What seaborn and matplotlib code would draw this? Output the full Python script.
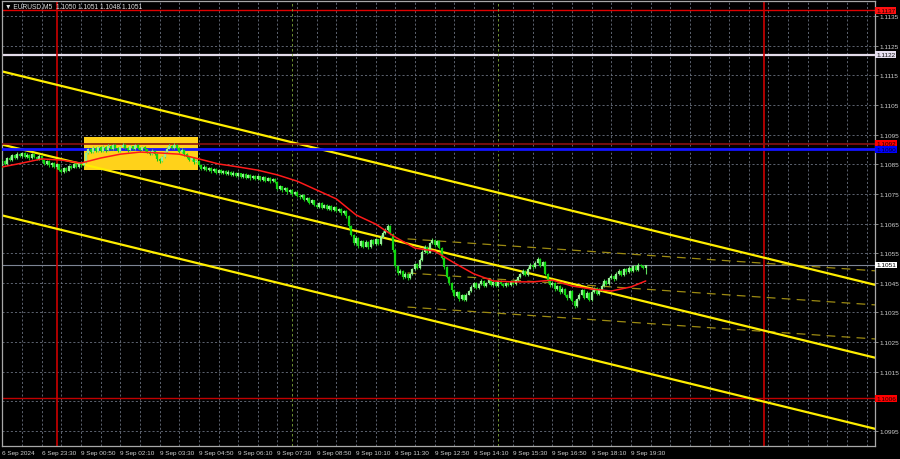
import numpy as np
import pandas as pd
import matplotlib
matplotlib.use("Agg")
import matplotlib.pyplot as plt
import seaborn as sns

# ---------------- data (prices in pips above 1.1000) ----------------
BASE = 1.1000
PIP = 0.0001

first_open_pips = 84.5
close_pips = [
    86.0, 85.2, 87.0, 86.5, 88.0, 87.2, 88.6, 87.8, 88.9, 87.5,
    88.2, 87.0, 88.5, 87.6, 86.8, 87.9, 86.5, 85.2, 86.0, 84.6,
    85.5, 84.0, 85.0, 83.2, 82.5, 83.8, 82.8, 84.5, 83.9, 85.0,
    84.2, 85.3, 84.6, 85.6, 88.8, 90.0, 89.2, 90.6, 89.5, 90.8,
    89.6, 90.9, 89.8, 91.2, 90.2, 91.5, 90.4, 89.5, 90.7, 91.6,
    90.5, 89.8, 91.0, 90.1, 91.4, 90.6, 89.7, 90.9, 90.0, 89.2,
    88.5, 89.6, 88.4, 86.8, 86.0, 87.5, 89.0, 90.3, 91.2, 90.5,
    91.6, 90.4, 89.2, 89.9, 88.3, 87.6, 86.5, 87.0, 85.6, 86.2,
    84.9, 83.5, 84.2, 83.0, 83.8, 82.6, 83.4, 82.2, 83.1, 82.0,
    82.8, 81.8, 82.5, 81.4, 82.2, 81.0, 81.9, 80.8, 81.6, 80.5,
    81.3, 80.2, 81.0, 80.0, 80.9, 79.8, 80.6, 79.5, 80.3, 79.2,
    79.9, 79.0, 76.8, 77.5, 76.2, 76.9, 75.5, 76.3, 74.8, 75.6,
    74.4, 73.8, 74.5, 72.9, 73.6, 72.0, 72.8, 71.2, 70.6, 71.8,
    70.4, 71.2, 69.8, 70.9, 69.5, 70.6, 69.2, 70.0, 68.4, 69.3,
    67.5, 64.0, 61.2, 58.5, 60.2, 57.4, 59.0, 57.2, 58.8, 57.0,
    59.4, 58.0, 59.6, 58.2, 60.5, 61.8, 62.8, 64.2, 61.5, 56.0,
    50.5, 48.2, 49.0, 46.8, 48.0, 46.5, 47.8, 49.5, 51.2, 50.0,
    52.8, 55.5, 57.0, 55.2, 58.4, 59.5, 57.6, 59.0, 56.8, 53.5,
    50.2, 47.0, 44.8, 42.5, 40.6, 41.8, 39.5, 40.8, 39.2, 41.0,
    42.2, 43.6, 44.8, 43.2, 44.5, 45.6, 43.8, 44.9, 46.0, 44.2,
    45.3, 44.0, 45.5, 44.6, 43.8, 45.0, 44.2, 45.6, 44.5, 46.0,
    46.8, 47.9, 49.0, 47.6, 49.8, 50.9, 50.2, 51.8, 52.9, 50.8,
    52.0, 48.0, 45.8, 44.2, 45.0, 42.8, 43.9, 41.8, 43.0, 40.9,
    39.8, 42.2, 39.0, 37.2, 39.5, 41.0, 42.5, 40.0, 41.6, 39.2,
    42.0, 43.1, 41.2, 42.6, 44.0, 45.6, 44.6, 46.6, 47.2, 46.1,
    48.0, 49.1, 47.6, 49.6, 48.5, 50.0, 49.0, 50.6, 49.4, 51.0,
    50.6, 50.0, 51.0,
]
high_pips = [
    86.8, 86.6, 87.5, 87.9, 88.5, 88.4, 89.0, 88.9, 89.3, 89.1,
    88.7, 88.5, 88.9, 88.8, 87.9, 88.3, 88.1, 86.8, 86.4, 86.3,
    85.9, 85.8, 85.4, 85.2, 83.6, 84.2, 84.1, 84.9, 84.8, 85.3,
    85.3, 85.6, 85.6, 86.0, 89.2, 90.5, 90.4, 91.0, 90.9, 91.3,
    91.1, 91.4, 91.2, 91.7, 91.5, 92.0, 91.8, 90.7, 91.1, 92.1,
    91.9, 90.8, 91.4, 91.3, 91.9, 91.7, 90.9, 91.3, 91.2, 90.3,
    89.5, 90.0, 89.9, 88.7, 87.2, 87.9, 89.4, 90.8, 91.7, 91.6,
    92.2, 91.9, 90.7, 90.4, 90.1, 88.7, 87.9, 87.5, 87.3, 86.7,
    86.5, 85.2, 84.6, 84.5, 84.2, 84.1, 83.8, 83.7, 83.5, 83.4,
    83.2, 83.1, 82.9, 82.8, 82.6, 82.5, 82.3, 82.2, 82.0, 81.9,
    81.7, 81.6, 81.4, 81.3, 81.3, 81.2, 81.0, 80.9, 80.7, 80.6,
    80.3, 80.2, 79.3, 77.9, 77.8, 77.3, 77.2, 76.7, 76.6, 76.0,
    75.9, 74.8, 74.9, 74.8, 74.0, 73.9, 73.2, 73.1, 71.6, 72.3,
    72.1, 71.6, 71.5, 71.3, 71.2, 71.0, 70.9, 70.4, 70.3, 69.7,
    69.6, 67.8, 64.4, 61.6, 60.7, 60.5, 59.5, 59.3, 59.3, 59.1,
    59.9, 59.7, 60.1, 59.9, 61.0, 62.4, 63.5, 64.9, 64.5, 61.8,
    56.3, 50.9, 49.5, 49.3, 48.5, 48.3, 48.2, 50.0, 51.7, 51.5,
    53.3, 56.0, 57.6, 57.3, 58.9, 60.2, 59.8, 59.5, 59.3, 57.1,
    53.8, 50.5, 47.3, 45.1, 42.8, 42.3, 42.1, 41.3, 41.1, 41.5,
    42.7, 44.1, 45.3, 45.1, 44.9, 46.1, 45.9, 45.3, 46.5, 46.3,
    45.7, 45.6, 45.9, 45.8, 44.9, 45.4, 45.3, 46.0, 45.9, 46.4,
    47.3, 48.4, 49.5, 49.3, 50.3, 51.5, 51.3, 52.3, 53.6, 53.2,
    52.5, 52.3, 48.3, 46.1, 45.5, 45.3, 44.4, 44.2, 43.5, 43.3,
    41.2, 42.7, 42.5, 39.3, 40.0, 41.5, 43.0, 42.8, 42.1, 41.9,
    42.5, 43.6, 43.4, 43.1, 44.5, 46.1, 45.9, 47.1, 47.8, 47.5,
    48.5, 49.6, 49.4, 50.1, 49.9, 50.5, 50.3, 51.1, 50.9, 51.5,
    51.3, 50.9, 51.0,
]
low_pips = [
    83.6, 84.7, 84.9, 86.0, 86.1, 86.8, 86.9, 87.3, 87.5, 87.0,
    87.1, 86.6, 86.7, 87.2, 86.3, 86.5, 86.0, 84.8, 84.9, 84.2,
    84.2, 83.6, 83.5, 82.6, 82.0, 82.2, 82.3, 82.6, 83.5, 83.6,
    83.8, 83.9, 84.2, 84.3, 85.4, 88.5, 88.7, 88.9, 89.1, 89.2,
    89.2, 89.3, 89.3, 89.5, 89.8, 89.9, 90.0, 89.0, 89.2, 90.4,
    90.1, 89.3, 89.5, 89.7, 89.8, 90.2, 89.2, 89.4, 89.6, 88.7,
    88.0, 88.2, 88.0, 86.2, 85.5, 85.7, 87.2, 88.7, 90.0, 90.1,
    90.2, 90.0, 88.8, 88.9, 87.9, 87.1, 86.0, 86.1, 85.1, 85.3,
    84.4, 83.0, 83.2, 82.6, 82.7, 82.2, 82.3, 81.8, 81.9, 81.6,
    81.7, 81.4, 81.5, 81.0, 81.1, 80.6, 80.7, 80.4, 80.5, 80.1,
    80.2, 79.8, 79.9, 79.6, 79.7, 79.4, 79.5, 79.1, 79.2, 78.8,
    78.9, 78.6, 76.3, 76.4, 75.8, 75.9, 75.1, 75.2, 74.4, 74.5,
    74.0, 73.3, 73.5, 72.5, 72.6, 71.6, 71.7, 70.8, 70.1, 70.3,
    70.0, 70.1, 69.4, 69.5, 69.1, 69.2, 68.8, 68.9, 68.0, 68.1,
    67.0, 63.5, 60.7, 57.9, 58.1, 56.8, 57.0, 56.7, 56.9, 56.5,
    56.7, 57.6, 57.7, 57.8, 57.9, 60.2, 61.4, 62.5, 61.0, 55.4,
    49.9, 47.7, 47.8, 46.3, 46.5, 46.0, 46.2, 47.5, 49.2, 49.6,
    49.7, 52.5, 55.2, 54.8, 54.9, 58.1, 57.2, 57.3, 56.4, 53.0,
    49.7, 46.5, 44.3, 42.0, 40.1, 40.3, 39.0, 39.2, 38.7, 38.9,
    40.7, 41.9, 43.3, 42.8, 42.9, 44.2, 43.4, 43.5, 44.6, 43.8,
    43.9, 43.6, 43.7, 44.2, 43.4, 43.5, 43.8, 43.9, 44.1, 44.2,
    45.7, 46.5, 47.6, 47.2, 47.3, 49.5, 49.8, 49.9, 51.5, 50.4,
    50.5, 47.5, 45.3, 43.7, 43.9, 42.3, 42.5, 41.3, 41.5, 40.4,
    39.3, 39.5, 38.5, 36.4, 36.9, 39.2, 40.7, 39.5, 39.7, 38.7,
    38.9, 41.7, 40.8, 40.9, 42.3, 43.7, 44.2, 44.3, 46.3, 45.7,
    45.8, 47.7, 47.2, 47.3, 48.1, 48.2, 48.6, 48.7, 49.0, 49.1,
    50.2, 49.6, 48.0,
]

# moving average (red) read at every 8th bar
ma_bars = [0, 8, 16, 24, 32, 40, 48, 56, 64, 72, 80, 88, 96, 104, 112, 120,
           128, 136, 144, 152, 160, 168, 176, 184, 192, 200, 208, 216, 224,
           232, 240, 248, 256, 262]
ma_pips = [84.1, 85.4, 86.8, 86.4, 85.4, 87.1, 88.4, 89.1, 88.8, 88.4, 86.8,
           85.1, 84.1, 83.0, 81.4, 79.3, 76.3, 73.3, 67.9, 64.8, 60.4, 56.7,
           55.7, 51.7, 48.0, 45.6, 45.3, 45.3, 45.9, 43.9, 42.9, 42.2, 43.6,
           45.6]

xtick_bars = [0, 16, 32, 48, 64, 80, 96, 112, 128, 144, 160, 176, 192, 208,
              224, 240, 256]
xtick_labels = ["6 Sep 2024", "6 Sep 23:30", "9 Sep 00:50", "9 Sep 02:10",
                "9 Sep 03:30", "9 Sep 04:50", "9 Sep 06:10", "9 Sep 07:30",
                "9 Sep 08:50", "9 Sep 10:10", "9 Sep 11:30", "9 Sep 12:50",
                "9 Sep 14:10", "9 Sep 15:30", "9 Sep 16:50", "9 Sep 18:10",
                "9 Sep 19:30"]
price_ticks = [1.0995, 1.1005, 1.1015, 1.1025, 1.1035, 1.1045, 1.1055, 1.1065,
               1.1075, 1.1085, 1.1095, 1.1105, 1.1115, 1.1125, 1.1135]
hidden_tick_labels = [1.1005]   # covered by the 1.1006 level box

# horizontal levels
level_prices = [1.1137, 1.1122, 1.1092, 1.1090, 1.1006]
bid_price = 1.1051

# red day separators and green session markers (bar index)
day_bars = [22, 310]
session_bars = [118, 202]

# yellow box (bars, prices)
box_bars = [33.4, 79.6]
box_prices = [1.10830, 1.10942]

# yellow channel lines: anchor points (bar, price)
channel_top = [(0, 1.11163), (350, 1.10454)]
channel_mid = [(0, 1.10916), (350, 1.10208)]
channel_bot = [(0, 1.10677), (350, 1.09968)]
# dashed regression channel (bar, price)
reg_up = [(165, 1.10598), (356, 1.10490)]
reg_mid = [(165, 1.10483), (356, 1.10375)]
reg_lo = [(165, 1.10368), (356, 1.10260)]

title_text = "\u25BC EURUSD,M5  1.1050 1.1051 1.1048 1.1051"

# ---------------- build frames ----------------
n = len(close_pips)
closes = BASE + np.array(close_pips) * PIP
opens = np.concatenate([[BASE + first_open_pips * PIP], closes[:-1]])
candles = pd.DataFrame({
    "bar": np.arange(n),
    "open": opens,
    "close": closes,
    "high": BASE + np.array(high_pips) * PIP,
    "low": BASE + np.array(low_pips) * PIP,
})
ma_df = pd.DataFrame({"bar": ma_bars, "price": BASE + np.array(ma_pips) * PIP})

# ---------------- style ----------------
sns.set_theme(style="dark")
FONT = ["Liberation Sans", "DejaVu Sans"]
plt.rcParams["font.family"] = FONT
TXT = "#cfcfcf"
FS = 4.6

fig = plt.figure(figsize=(9, 4.6), dpi=100, facecolor="black")
ax = fig.add_axes([2 / 900, 13 / 460, 873 / 900, 445 / 460])
ax.set_facecolor("black")

ax.set_xlim(-0.2, 355.4)
ax.set_ylim(1.09899, 1.11401)

# grid / ticks
ax.set_xticks(xtick_bars)
ax.set_xticklabels(xtick_labels, ha="left")
ax.set_xticks(list(range(0, 356, 8)), minor=True)
ax.set_yticks(price_ticks)
ax.set_yticklabels(["" if p in hidden_tick_labels else f"{p:.4f}"
                    for p in price_ticks])
ax.grid(True, which="both", axis="x", color="#6b7280", lw=0.6,
        linestyle=(0, (2.5, 2.5)))
ax.grid(True, which="major", axis="y", color="#6b7280", lw=0.6,
        linestyle=(0, (2.5, 2.5)))
ax.yaxis.tick_right()
ax.tick_params(axis="y", which="both", colors="#a0a0a0", labelcolor=TXT,
               labelsize=FS, length=2, width=0.6, pad=1.5)
ax.tick_params(axis="x", which="both", colors="#a0a0a0", labelcolor=TXT,
               labelsize=FS, length=2.5, width=0.6, pad=0.5)
for s in ax.spines.values():
    s.set_color("#a8a8a8")
    s.set_linewidth(0.9)

# yellow box
ax.fill_between(box_bars, box_prices[0], box_prices[1], color="#ffd21a",
                lw=0, zorder=1.2)

# horizontal levels
ax.axhline(level_prices[0], color="#e00000", lw=1.0, zorder=1.5)
ax.axhline(level_prices[1], color="#e4dcea", lw=1.6, zorder=1.5)
ax.axhline(level_prices[2], color="#8b1010", lw=1.2, zorder=2.6)
ax.axhline(level_prices[3], color="#1414ff", lw=2.0, zorder=2.6)
ax.axhline(level_prices[4], color="#c00000", lw=1.0, zorder=1.5)
ax.axhline(bid_price, color="#7d8494", lw=0.8, zorder=1.5)

# vertical separators
for b in day_bars:
    ax.axvline(b, color="#cc0000", lw=1.2, zorder=1.5)
for b in session_bars:
    ax.axvline(b, color="#7fa838", lw=0.6, linestyle=(0, (3, 3)), zorder=1.5)

# channel lines
for ln in (channel_top, channel_mid, channel_bot):
    ax.axline(ln[0], ln[1], color="#ffee00", lw=1.6, zorder=2.2)
for ln in (reg_up, reg_mid, reg_lo):
    ax.plot([ln[0][0], ln[1][0]], [ln[0][1], ln[1][1]], color="#9c8a12",
            lw=0.9, linestyle=(0, (7, 5)), zorder=2.1)

# candles
up = candles["close"] >= candles["open"]
ax.vlines(candles["bar"], candles["low"], candles["high"],
          colors=np.where(up, "#5fe05f", "#17c417"), lw=0.8, zorder=3)
body_lo = np.minimum(candles["open"], candles["close"])
body_hi = np.maximum(candles["open"], candles["close"])
ax.vlines(candles["bar"], body_lo, body_hi,
          colors=np.where(up, "#98f098", "#12d812"), lw=1.6, zorder=3.1)

# moving average
sns.lineplot(data=ma_df, x="bar", y="price", ax=ax, color="#ff1a1a",
             lw=1.1, zorder=4, legend=False)
ax.set_xlabel("")
ax.set_ylabel("")

# price label boxes on right axis
tr = ax.get_yaxis_transform()
boxes = [
    (level_prices[0], "#ff1010", "#200000"),
    (level_prices[1], "#e6dff0", "#101010"),
    (level_prices[2], "#ff0000", "#200000"),
    (level_prices[3], "#0000ff", "#000030"),
    (bid_price, "#ffffff", "#000000"),
    (level_prices[4], "#ff0000", "#200000"),
]
for p, bg, fg in boxes:
    ax.text(1.0015, p, f"{p:.4f}", transform=tr, ha="left", va="center",
            fontsize=FS, color=fg, clip_on=False, zorder=10,
            bbox=dict(boxstyle="square,pad=0.15", fc=bg, ec="none"))

# title
ax.text(0.003, 0.990, title_text, transform=ax.transAxes, ha="left",
        va="center", fontsize=FS + 0.2, color="#e0e0e0", zorder=10,
        family=FONT)

fig.savefig("out.png", dpi=100, facecolor="black")
